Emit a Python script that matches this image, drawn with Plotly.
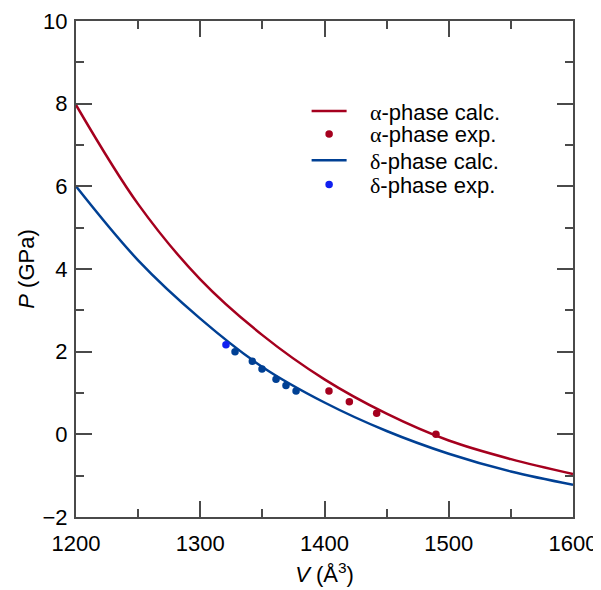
import plotly.graph_objects as go

# calculated EOS curves
v_calc = [1200, 1250, 1300, 1350, 1400, 1450, 1500, 1550, 1600]
p_alpha_calc = [7.97, 5.57, 3.75, 2.40, 1.33, 0.50, -0.15, -0.60, -0.96]
p_delta_calc = [6.0, 4.21, 2.80, 1.63, 0.77, 0.08, -0.47, -0.90, -1.22]

# experimental points
v_alpha_exp = [1403.6, 1420.0, 1442.0, 1489.7]
p_alpha_exp = [1.05, 0.79, 0.51, 0.0]
v_delta_exp = [1320.7, 1328.0, 1341.9, 1349.7, 1361.0, 1369.0, 1377.1]
p_delta_exp = [2.17, 2.00, 1.77, 1.58, 1.33, 1.18, 1.05]

red = "#A5001E"
blue = "#004094"
axcol = "#4a4a4a"
greek = '&nbsp;&nbsp;&nbsp;<span style="font-family:Liberation Serif">%s</span>'

fig = go.Figure()
fig.add_trace(go.Scatter(x=v_calc, y=p_alpha_calc, mode="lines",
                         line=dict(color=red, width=2.5, shape="spline", smoothing=1.0),
                         name=greek % "α" + "-phase calc.", legend="legend"))
fig.add_trace(go.Scatter(x=v_alpha_exp, y=p_alpha_exp, mode="markers", marker=dict(color=red, size=7.5),
                         name=greek % "α" + "-phase exp.", legend="legend2"))
fig.add_trace(go.Scatter(x=v_calc, y=p_delta_calc, mode="lines",
                         line=dict(color=blue, width=2.5, shape="spline", smoothing=1.0),
                         name=greek % "δ" + "-phase calc.", legend="legend3"))
fig.add_trace(go.Scatter(x=v_delta_exp, y=p_delta_exp, mode="markers",
                         marker=dict(color=["#1020F0"] + [blue] * (len(v_delta_exp) - 1), size=7.5),
                         name=greek % "δ" + "-phase exp.", legend="legend4"))

axis_common = dict(showgrid=False, zeroline=False, showline=True, linecolor=axcol, linewidth=2,
                   mirror="allticks", ticks="inside", ticklen=16, tickwidth=1.5, tickcolor=axcol,
                   tickfont=dict(size=22, color="black"), automargin=False)


def leg(y):
    # one legend per row so the rows sit closer than plotly's default spacing
    return dict(x=0.464, y=y, xanchor="left", yanchor="middle", font=dict(size=22),
                bgcolor="rgba(0,0,0,0)", itemwidth=35)


# page body has an 8px margin, so the figure is a bit smaller than the window
fig.update_layout(
    width=593, height=582,
    margin=dict(l=68, r=28, t=13, b=73),
    paper_bgcolor="white", plot_bgcolor="white",
    font=dict(family="Liberation Sans, Arial", color="black"),
    xaxis=dict(range=[1200, 1600], dtick=100, ticklabelstandoff=6,
               minor=dict(dtick=50, ticks="inside", ticklen=8, tickwidth=1.5, tickcolor=axcol),
               title=dict(text="<i>V</i> (Å<sup>3</sup>)", font=dict(size=22), standoff=11),
               **axis_common),
    yaxis=dict(range=[-2, 10], dtick=2, ticklabelstandoff=2,
               minor=dict(dtick=1, ticks="inside", ticklen=8, tickwidth=1.5, tickcolor=axcol),
               title=dict(text="<i>P</i> (GPa)", font=dict(size=22), standoff=2),
               **axis_common),
    legend=leg(0.818),
    legend2=leg(0.772),
    legend3=leg(0.719),
    legend4=leg(0.670),
    showlegend=True,
)

fig.write_html("out.html")
